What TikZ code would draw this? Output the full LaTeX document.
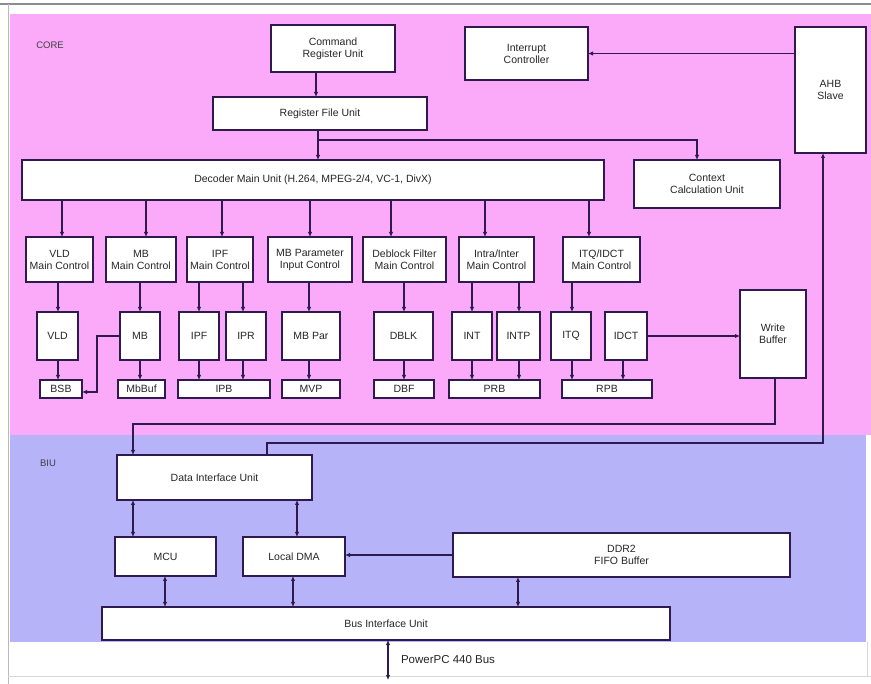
\documentclass[tikz,border=0pt]{standalone}
\usepackage{fontspec}
\setmainfont{Liberation Sans}
\usetikzlibrary{arrows.meta}
\definecolor{corebg}{HTML}{FAAAF8}
\definecolor{biubg}{HTML}{B6B3F8}
\definecolor{linec}{HTML}{2E1A4E}
\definecolor{framec}{HTML}{8C8C8C}
\begin{document}
\begin{tikzpicture}[x=1pt,y=-1pt,
  blk/.style={draw=linec, line width=1.2pt, fill=white, inner sep=0pt, outer sep=0pt,
    align=center, font=\fontsize{10.5}{12}\selectfont, text=black!85},
  sz/.style 2 args={minimum width=#1pt, minimum height=#2pt},
  conn/.style={draw=linec, line width=1.3pt},
  arr/.style={conn, -{Latex[length=5pt,width=4.5pt]}},
  biarr/.style={conn, {Latex[length=5pt,width=4.5pt]}-{Latex[length=5pt,width=4.5pt]}},
  area/.style={font=\fontsize{9.5}{11}\selectfont, text=black!75}]

\useasboundingbox (0,0) rectangle (871,684);

% regions
\fill[white] (0,0) rectangle (871,684);
\fill[corebg] (10,14) rectangle (871,435);
\fill[biubg] (10,435) rectangle (866,642);
\draw[framec, line width=1.4pt] (0,4) -- (871,4);
\draw[framec!60, line width=0.8pt] (8,4) -- (8,684);
\draw[framec!35, line width=0.6pt] (8,676) -- (871,676);
\draw[framec!35, line width=0.6pt] (867,642) -- (867,676);

\node[area] (corelbl) at (50,45) {CORE};
\node[area] (biulbl) at (48,463) {BIU};

% top control blocks
\node[blk, sz={124}{47}] (cmd) at (333,48.5) {Command\\Register Unit};
\node[blk, sz={214}{33}] (reg) at (320,113.5) {Register File Unit};
\node[blk, sz={123}{53}] (intr) at (526.5,53.5) {Interrupt\\Controller};
\node[blk, sz={71}{126}] (ahb) at (830.5,90) {AHB\\Slave};
\node[blk, sz={582}{40}] (dec) at (313,180) {Decoder Main Unit (H.264, MPEG-2/4, VC-1, DivX)};
\node[blk, sz={146}{48}] (ctx) at (707,184) {Context\\Calculation Unit};

% sub-unit controllers
\node[blk, sz={67}{45}] (c1) at (59.5,259.5) {VLD\\Main Control};
\node[blk, sz={70}{45}] (c2) at (141,259.5) {MB\\Main Control};
\node[blk, sz={66}{45}] (c3) at (220,259.5) {IPF\\Main Control};
\node[blk, sz={84}{45}] (c4) at (310,259.5) {MB Parameter\\Input Control};
\node[blk, sz={83}{45}] (c5) at (404.5,259.5) {Deblock Filter\\Main Control};
\node[blk, sz={75}{45}] (c6) at (496.5,259.5) {Intra/Inter\\Main Control};
\node[blk, sz={77}{45}] (c7) at (601.5,259.5) {ITQ/IDCT\\Main Control};

% processing units
\node[blk, sz={41}{48}] (b1) at (57.5,336) {VLD};
\node[blk, sz={40}{48}] (b2) at (140,336) {MB};
\node[blk, sz={40}{48}] (b3) at (199,336) {IPF};
\node[blk, sz={40}{48}] (b4) at (246,336) {IPR};
\node[blk, sz={58}{48}] (b5) at (311,336) {MB Par};
\node[blk, sz={59}{48}] (b6) at (403.5,336) {DBLK};
\node[blk, sz={40}{48}] (b7) at (472,336) {INT};
\node[blk, sz={43}{48}] (b8) at (518.5,336) {INTP};
\node[blk, sz={40}{48}] (b9) at (571,336) {ITQ};
\node[blk, sz={42}{48}] (b10) at (626,336) {IDCT};

% local buffers
\node[blk, sz={42}{18}] (r1) at (61,389) {BSB};
\node[blk, sz={47}{18}] (r2) at (141.5,389) {MbBuf};
\node[blk, sz={92}{18}] (r3) at (224,389) {IPB};
\node[blk, sz={58}{18}] (r4) at (311,389) {MVP};
\node[blk, sz={60}{18}] (r5) at (404,389) {DBF};
\node[blk, sz={91}{18}] (r6) at (494.5,389) {PRB};
\node[blk, sz={90}{18}] (r7) at (607,389) {RPB};

\node[blk, sz={66}{88}] (wbuf) at (773,334) {Write\\Buffer};

% bus interface blocks
\node[blk, sz={195}{45}] (diu) at (214.5,477.5) {Data Interface Unit};
\node[blk, sz={101}{39}] (mcu) at (165.5,556.5) {MCU};
\node[blk, sz={102}{39}] (ldma) at (294,556.5) {Local DMA};
\node[blk, sz={337}{44}] (ddr) at (621.5,555) {DDR2\\FIFO Buffer};
\node[blk, sz={568}{33}] (biu) at (386,623.5) {Bus Interface Unit};
\node[font=\fontsize{11.5}{13}\selectfont, text=black!85] (buslbl) at (448,660) {PowerPC 440 Bus};

% helper coordinates for connector positions
\coordinate (xa) at (316,0);
\coordinate (xb) at (318,0);
\coordinate (jr) at (318,140);
\coordinate (d1) at (62,0);  \coordinate (d2) at (146,0); \coordinate (d3) at (222,0);
\coordinate (d4) at (310,0); \coordinate (d5) at (391,0); \coordinate (d6) at (485,0);
\coordinate (d7) at (589,0);
\coordinate (e1) at (58,0);  \coordinate (e2) at (140,0); \coordinate (e3) at (199,0);
\coordinate (e4) at (243,0); \coordinate (e5) at (309,0); \coordinate (e6) at (404,0);
\coordinate (e7) at (472,0); \coordinate (e8) at (519,0); \coordinate (e9) at (572,0);
\coordinate (f10) at (623,0);
\coordinate (mbk) at (97,392);
\coordinate (wy) at (775,424);
\coordinate (wx) at (133,424);
\coordinate (ux) at (267,443);
\coordinate (uy) at (823,443);
\coordinate (g2) at (297,0);
\coordinate (g3) at (165,0);
\coordinate (g4) at (293,0);
\coordinate (g5) at (518,0);
\coordinate (busend) at (388,680);

% control path
\draw[arr] (cmd.south -| xa) -- (reg.north -| xa);
\draw[arr] (reg.south -| xb) -- (dec.north -| xb);
\draw[arr] (jr) -| ([xshift=-10pt]ctx.north);
\draw[arr] (ahb.west |- intr.east) -- (intr.east);

\foreach \c/\x in {c1/d1,c2/d2,c3/d3,c4/d4,c5/d5,c6/d6,c7/d7}
  \draw[arr] (dec.south -| \x) -- (\c.north -| \x);

\foreach \c/\b/\x in {c1/b1/e1,c2/b2/e2,c3/b3/e3,c3/b4/e4,c4/b5/e5,c5/b6/e6,c6/b7/e7,c6/b8/e8,c7/b9/e9}
  \draw[arr] (\c.south -| \x) -- (\b.north -| \x);

\foreach \b/\r/\x in {b1/r1/e1,b2/r2/e2,b3/r3/e3,b4/r4/e4,b5/r4/e5,b6/r5/e6,b7/r6/e7,b8/r6/e8,b9/r7/e9,b10/r7/f10}
  \draw[arr] (\b.south -| \x) -- (\r.north -| \x);

\draw[arr] (b2.west) -| (mbk) -- (r1.east |- mbk);
\draw[arr] (b10.east) -- (wbuf.west |- b10.east);

% data path to the bus interface
\draw[arr] (wbuf.south -| wy) -- (wy) -- (wx) -- (diu.north -| wx);
\draw[arr] (diu.north -| ux) -- (ux) -- (uy) -- (ahb.south -| uy);
\draw[biarr] (diu.south -| wx) -- (mcu.north -| wx);
\draw[biarr] (diu.south -| g2) -- (ldma.north -| g2);
\draw[biarr] (mcu.south -| g3) -- (biu.north -| g3);
\draw[biarr] (ldma.south -| g4) -- (biu.north -| g4);
\draw[biarr] (ddr.south -| g5) -- (biu.north -| g5);
\draw[arr] (ddr.west) -- (ldma.east |- ddr.west);
\draw[biarr] (biu.south -| busend) -- (busend);
\end{tikzpicture}
\end{document}
